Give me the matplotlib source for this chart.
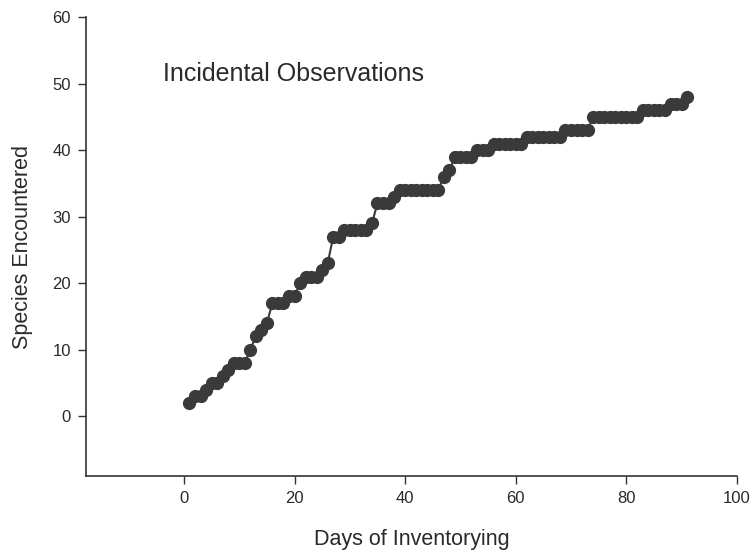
import matplotlib
matplotlib.use("Agg")
import matplotlib.pyplot as plt

plt.rcParams['font.family'] = ['Liberation Sans', 'DejaVu Sans']

# cumulative species per day of inventorying
days = list(range(1, 92))
species = [2, 3, 3, 4, 5, 5, 6, 7, 8, 8,
           8, 10, 12, 13, 14, 17, 17, 17, 18, 18,
           20, 21, 21, 21, 22, 23, 27, 27, 28, 28,
           28, 28, 28, 29, 32, 32, 32, 33, 34, 34,
           34, 34, 34, 34, 34, 34, 36, 37, 39, 39,
           39, 39, 40, 40, 40, 41, 41, 41, 41, 41,
           41, 42, 42, 42, 42, 42, 42, 42, 43, 43,
           43, 43, 43, 45, 45, 45, 45, 45, 45, 45,
           45, 45, 46, 46, 46, 46, 46, 47, 47, 47,
           48]

xticks = [0, 20, 40, 60, 80, 100]
yticks = [0, 10, 20, 30, 40, 50, 60]

fig = plt.figure(figsize=(7.55, 5.56), dpi=100)
ax = fig.add_axes([0.114, 0.144, 0.862, 0.825])

ax.plot(days, species, color="#3a3a3a", linewidth=1.5,
        marker="o", markersize=8.5, markerfacecolor="#3a3a3a",
        markeredgecolor="#3a3a3a")

ax.set_xlim(-17.7, 100)
ax.set_ylim(-9, 60)
ax.set_xticks(xticks)
ax.set_yticks(yticks)
ax.spines["top"].set_visible(False)
ax.spines["right"].set_visible(False)
for s in ["left", "bottom"]:
    ax.spines[s].set_color("#333333")
    ax.spines[s].set_linewidth(1.2)
ax.tick_params(direction="out", length=6, width=1, colors="#333333",
               labelsize=12, labelcolor="#2a2a2a", pad=5)

ax.text(-3.8, 51.5, "Incidental Observations", fontsize=18,
        color="#2a2a2a", va="center", ha="left")

ax.set_xlabel("Days of Inventorying", fontsize=15.5, color="#2a2a2a")
ax.set_ylabel("Species Encountered", fontsize=15.5, color="#2a2a2a")
ax.xaxis.set_label_coords(0.5, -0.115)
ax.yaxis.set_label_coords(-0.081, 0.5)

fig.savefig("out.png", dpi=100)
